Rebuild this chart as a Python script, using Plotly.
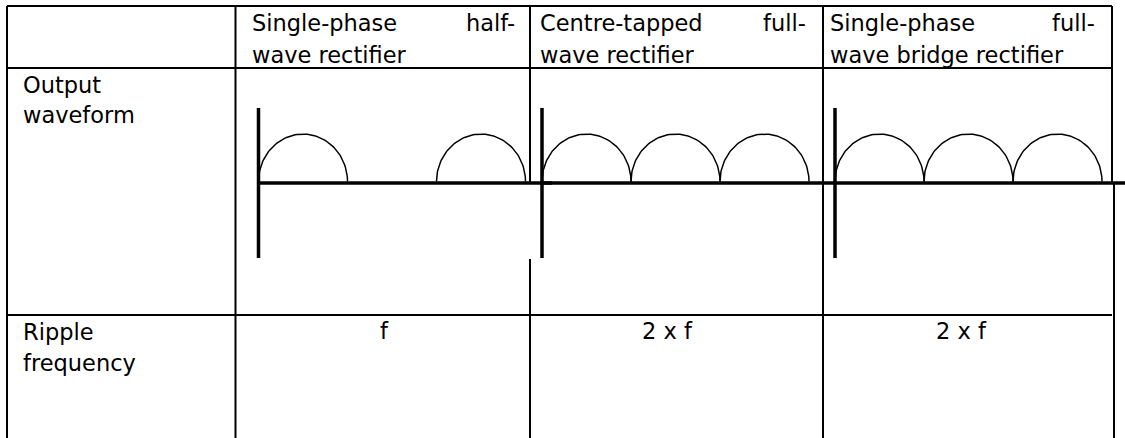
import numpy as np
import plotly.graph_objects as go

W, H = 1125, 438

# Table text
row_labels = [["Output", "waveform"], ["Ripple", "frequency"]]
header_line1 = [("Single-phase", "half-"), ("Centre-tapped", "full-"), ("Single-phase", "full-")]
header_line2 = ["wave rectifier", "wave rectifier", "wave bridge rectifier"]
ripple_freq = ["f", "2 x f", "2 x f"]

# Output pulses, start of each pulse in half-periods of the supply
pulse_starts = [[0, 2], [0, 1, 2], [0, 1, 2]]
pulse_width = 1.0
pulse_peak = 1.0

# Layout (pixels)
col_x = [7, 235.5, 530, 823, 1112]
row_y = [6, 68, 315]
origin_x = [258.5, 542, 835]
origin_y = 183
px_per_half = 89
px_per_unit = 47.5
axis_half = 1.58
text_left = [250, 538, 828]
text_right = [517, 808, 1097]
value_x = [384, 667, 961]

FONT = dict(family="DejaVu Sans", size=22.5, color="black")

fig = go.Figure()

# Table grid
grid = []
for y in row_y:
    grid.append((col_x[0], y, col_x[-1], y))
grid.append((col_x[0], row_y[0], col_x[0], H))
grid.append((col_x[1], row_y[0], col_x[1], H))
grid.append((col_x[2], row_y[0], col_x[2], origin_y))
grid.append((col_x[2], 259, col_x[2], H))
grid.append((col_x[3], row_y[0], col_x[3], H))
grid.append((col_x[4], row_y[0], col_x[4], origin_y))
grid.append((col_x[4] + 2, origin_y, col_x[4] + 2, H))
for x0, y0, x1, y1 in grid:
    fig.add_shape(type="line", x0=x0, y0=y0, x1=x1, y1=y1, xref="x", yref="y",
                  line=dict(color="black", width=2))

fig.add_trace(go.Scatter(x=[0, W], y=[0, H], mode="markers",
                         marker=dict(opacity=0), hoverinfo="skip", showlegend=False))

# Waveforms, one overlaid axis pair per column
theta = np.linspace(0, np.pi, 80)
for i, starts in enumerate(pulse_starts):
    xa, ya = f"x{i + 2}", f"y{i + 2}"
    # axes
    fig.add_trace(go.Scatter(x=[0, 0], y=[-axis_half, axis_half], xaxis=xa, yaxis=ya,
                             mode="lines", line=dict(color="black", width=3.5),
                             hoverinfo="skip", showlegend=False))
    fig.add_trace(go.Scatter(x=[0, 3.3], y=[0, 0], xaxis=xa, yaxis=ya,
                             mode="lines", line=dict(color="black", width=3.5),
                             hoverinfo="skip", showlegend=False))
    # pulses
    for s in starts:
        fig.add_trace(go.Scatter(x=s + pulse_width / 2 * (1 - np.cos(theta)),
                                 y=pulse_peak * np.sin(theta) + 0.03,
                                 xaxis=xa, yaxis=ya, mode="lines",
                                 line=dict(color="black", width=1.5),
                                 hoverinfo="skip", showlegend=False))

    ox = origin_x[i]
    fig.update_layout(**{
        f"xaxis{i + 2}": dict(range=[-ox / px_per_half, (W - ox) / px_per_half],
                              overlaying="x", visible=False, domain=[0, 1]),
        f"yaxis{i + 2}": dict(range=[(origin_y - H) / px_per_unit, origin_y / px_per_unit],
                              overlaying="y", visible=False, domain=[0, 1]),
    })

# Text
ann = []
def add_text(x, y, t, anchor="left"):
    ann.append(dict(x=x, y=y, text=t, xref="x", yref="y", showarrow=False,
                    xanchor=anchor, yanchor="middle", font=FONT))

for i in range(3):
    add_text(text_left[i], 23, header_line1[i][0])
    add_text(text_right[i], 23, header_line1[i][1], "right")
    add_text(text_left[i], 55, header_line2[i])
    add_text(value_x[i], 331, ripple_freq[i], "center")

add_text(21, 85, row_labels[0][0])
add_text(21, 115, row_labels[0][1])
add_text(21, 332, row_labels[1][0])
add_text(21, 363, row_labels[1][1])

fig.update_layout(
    width=W, height=H,
    margin=dict(l=0, r=0, t=0, b=0),
    paper_bgcolor="white", plot_bgcolor="white",
    xaxis=dict(range=[0, W], visible=False),
    yaxis=dict(range=[H, 0], visible=False),
    annotations=ann,
    showlegend=False,
)

# page body has a default 8px margin, drop it so the figure fills the window
fig.write_html("out.html", config={"displayModeBar": False},
               post_script="document.body.style.margin='0';document.body.style.overflow='hidden';")
